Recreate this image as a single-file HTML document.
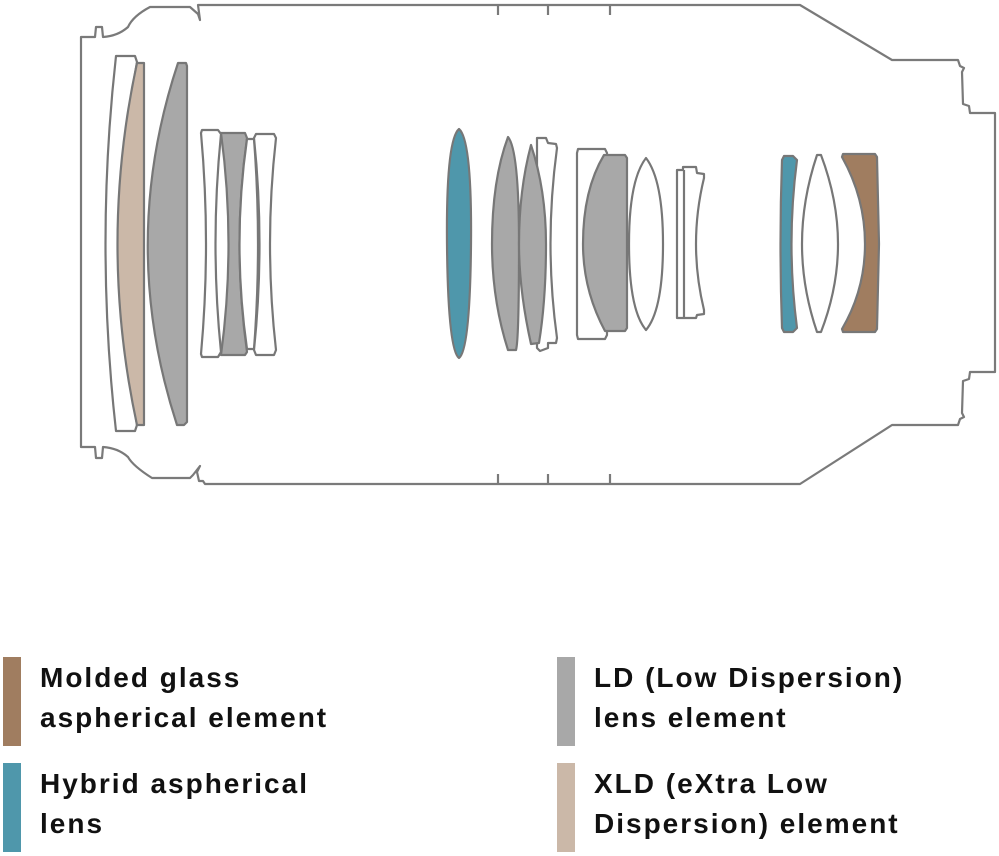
<!DOCTYPE html>
<html><head><meta charset="utf-8"><style>
html,body{margin:0;padding:0;background:#fff;width:999px;height:856px;overflow:hidden}
svg{position:absolute;left:0;top:0}
text{font-family:"Liberation Sans",sans-serif;font-weight:bold;font-size:28px;fill:#111;letter-spacing:2px}
</style></head><body>
<svg width="999" height="856" viewBox="0 0 999 856" xmlns="http://www.w3.org/2000/svg">
<g fill="none" stroke="#7a7a7a" stroke-width="2.2" stroke-linejoin="round">
<path d="M200,5 L800,5 L892,60 L958,60 L960,66 L964,68 L962,72 L963,104 L969,106 L970,113 L995,113 L995,372 L970,372 L969,379 L963,381 L962,413 L964,417 L960,419 L958,425 L892,425 L800,484 L205,484 L203,481 L199,481 L197,472 L200,466 L193,475 L190,478 L152,478 Q133,466 128,457 Q118,448 103,447 L102,458 L96,458 L95,447 L81,447 L81,37 L95,37 L96,27 L102,27 L103,37 Q118,36 128,27 Q133,16 150,7 L190,7 L198,14 L200,20 L198,5 Z"/>
<path d="M498,5 v10 M548,5 v10 M610,5 v10 M498,484 v-10 M548,484 v-10 M610,484 v-10"/>
</g>
<g stroke="#777" stroke-width="2.2" stroke-linejoin="round">
<path fill="#fff" d="M116,56 L135,56 L137,62 Q104,240 137,425 L135,431 L116,431 Q95,244 116,56 Z"/>
<path fill="#cbb8a8" d="M137,63 L144,63 L144,425 L137,425 Q98,244 137,63 Z"/>
<path fill="#a8a8a8" d="M178,63 L186,63 L187,66 L187,422 L184,425 L177,425 Q118,244 178,63 Z"/>
<path fill="#fff" d="M202,130 L218,130 L221,134 Q210,244 221,352 L218,357 L202,357 L201,354 Q211,244 201,133 Z"/>
<path fill="#a8a8a8" d="M221,133 L245,133 L247,138 Q232,244 247,352 L245,355 L221,355 Q236,244 221,133 Z"/>
<path fill="#fff" d="M247,139 L254,139 Q262,244 254,349 L247,349 Q232,244 247,139 Z"/>
<path fill="#fff" d="M256,134 L274,134 L276,138 Q264,244 276,350 L274,355 L256,355 L254,350 Q265,244 254,138 Z"/>
<path fill="#4f97ab" d="M459,129 Q472,140 471,244 Q470,350 459,358 Q448,350 447,244 Q446,140 459,129 Z"/>
<path fill="#a8a8a8" d="M508,137 Q519,150 519,244 Q519,340 516,350 L508,350 Q492,300 492,244 Q492,180 508,137 Z"/>
<path fill="#fff" d="M537,138 L546,138 L548,143 L556,144 L557,148 Q544,244 557,338 L556,343 L548,343 L548,348 L540,351 L537,348 Z"/>
<path fill="#a8a8a8" d="M531,145 Q546,190 546,244 Q546,300 539,343 L531,344 Q519,290 519,244 Q519,190 531,145 Z"/>
<path fill="#fff" d="M578,149 L605,149 L607,153 L607,335 L605,339 L578,339 L577,335 L577,153 Z"/>
<path fill="#a8a8a8" d="M604,155 L625,155 L627,158 L627,328 L625,331 L605,331 Q583,290 583,244 Q583,190 604,155 Z"/>
<path fill="#fff" d="M646,158 Q663,180 663,244 Q663,310 646,330 Q629,310 629,244 Q629,180 646,158 Z"/>
<path fill="#fff" d="M677,170 L683,170 L683,167 L696,167 L697,173 L704,174 L704,178 Q688,244 704,310 L704,314 L697,315 L696,318 L677,318 Z"/>
<path fill="none" d="M684,170 L684,318"/>
<path fill="#4f97ab" d="M784,156 L793,156 L797,160 Q786,244 797,328 L793,332 L784,332 L782,328 Q779,244 782,160 Z"/>
<path fill="#fff" d="M817,155 L821,155 Q838,200 838,244 Q838,288 821,332 L817,332 Q802,288 802,244 Q802,200 817,155 Z"/>
<path fill="#a07d60" d="M843,154 L875,154 L877,157 L879,244 L877,329 L875,332 L843,332 L842,329 Q865,290 865,244 Q865,198 842,157 Z"/>
</g>
<rect x="3" y="657" width="18" height="89" fill="#a07d60"/>
<rect x="3" y="763" width="18" height="89" fill="#4f97ab"/>
<rect x="557" y="657" width="18" height="89" fill="#a8a8a8"/>
<rect x="557" y="763" width="18" height="89" fill="#cbb8a8"/>
<text x="40" y="687">Molded glass</text>
<text x="40" y="727">aspherical element</text>
<text x="40" y="793">Hybrid aspherical</text>
<text x="40" y="833">lens</text>
<text x="594" y="687">LD (Low Dispersion)</text>
<text x="594" y="727">lens element</text>
<text x="594" y="793">XLD (eXtra Low</text>
<text x="594" y="833">Dispersion) element</text>
</svg>
</body></html>
